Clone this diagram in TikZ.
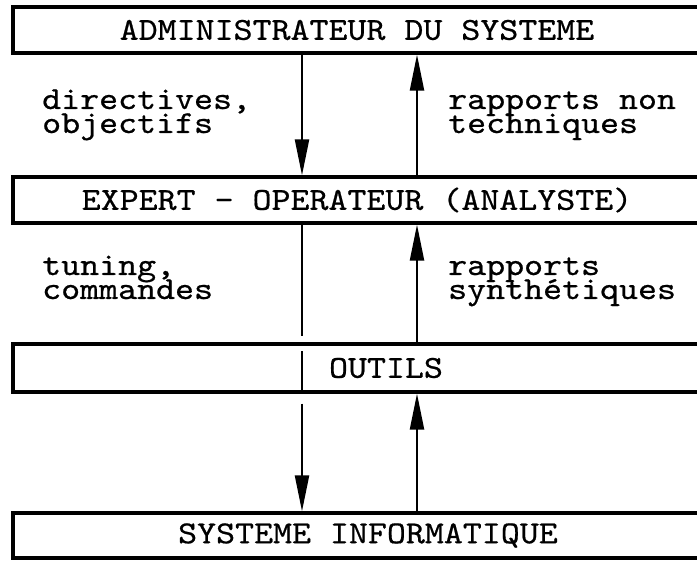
\documentclass[tikz,border=0pt]{standalone}
\usepackage{fontspec}
\setmonofont{lmmono10-regular.otf}[FakeStretch=1.13, FakeBold=0.6]
\usetikzlibrary{arrows.meta}
\tikzstyle{level} = [rectangle, minimum width=688pt, minimum height=46pt, text centered, draw=black, line width=3.2pt, font=\ttfamily\fontsize{32}{19}\selectfont]
\tikzstyle{remark} = [align=left, inner sep=0pt, anchor=base west, font={\ttfamily\fontsize{32}{24}\selectfont\lineskiplimit-40pt\relax}]
\tikzstyle{arrow} = [line width=2.2pt, -{Triangle[length=36pt, width=14pt]}]
\tikzstyle{link} = [line width=2.2pt]

\begin{document}
\begin{tikzpicture}[x=1pt, y=1pt, node distance = 168pt]
  \useasboundingbox (0,0) rectangle (697,-561);
  \node (admin) [level] at (357,-30) {ADMINISTRATEUR DU SYSTEME};
  \node (expert) [level, below of = admin, yshift = -2pt] {EXPERT - OPERATEUR (ANALYSTE)};
  \node (outils) [level, below of = expert, minimum height = 48pt] {\hspace*{58pt}OUTILS};
  \node (sysinfo) [level, below of = outils, yshift = 0.5pt, minimum height = 45pt] {\hspace*{22pt}SYSTEME INFORMATIQUE};
  \node (directives) [remark] at (42,-133) {directives,\\objectifs};
  \node (rapnontech) [remark] at (448,-133) {rapports non\\techniques};
  \node (tuning) [remark] at (42,-299) {tuning,\\commandes};
  \node (rapsynth) [remark] at (448,-299) {rapports\\synth\'etiques};
  \draw [arrow] ([xshift = -55pt]admin.south) -- ([xshift = -55pt]expert.north);
  \draw [arrow] ([xshift = 60pt]expert.north) -- ([xshift = 60pt]admin.south);
  \draw [link, shorten > = 6pt] ([xshift = -55pt]expert.south) -- ([xshift = -55pt]outils.north);
  \draw [link, shorten < = 9pt, shorten > = 4pt] ([xshift = -55pt]outils.north) -- ([xshift = -55pt]outils.south);
  \draw [arrow, shorten < = 10pt] ([xshift = -55pt]outils.south) -- ([xshift = -55pt]sysinfo.north);
  \draw [arrow] ([xshift = 60pt]outils.north) -- ([xshift = 60pt]expert.south);
  \draw [arrow] ([xshift = 60pt]sysinfo.north) -- ([xshift = 60pt]outils.south);
\end{tikzpicture}
\end{document}
